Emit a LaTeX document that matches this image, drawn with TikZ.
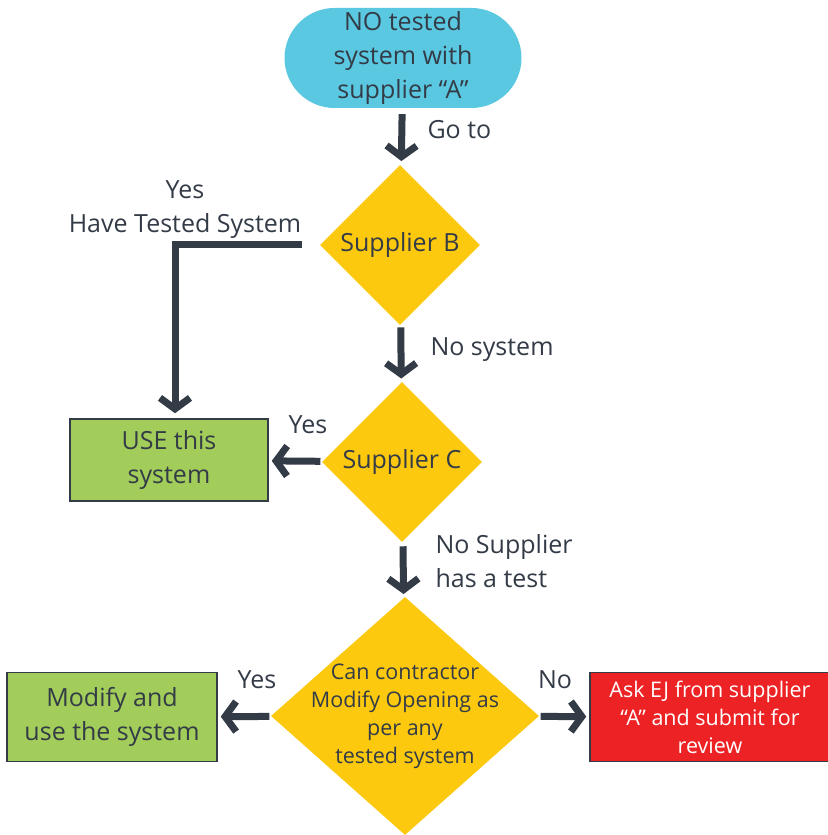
\documentclass[tikz,border=0pt]{standalone}
\usepackage{fontspec}
\setmainfont{Open Sans}
\usetikzlibrary{arrows.meta,shapes.geometric}
\definecolor{ink}{HTML}{333B46}
\definecolor{termcyan}{HTML}{5BC8E1}
\definecolor{decyellow}{HTML}{FDC90F}
\definecolor{okgreen}{HTML}{A2CD5A}
\definecolor{stopred}{HTML}{ED2224}
\tikzset{
  txt/.style={text=ink, font=\fontsize{25}{34}\selectfont, align=center},
  small/.style={text=ink, font=\fontsize{21.5}{28}\selectfont, align=center},
  dia/.style={diamond, fill=decyellow, inner sep=0pt, aspect=1},
  box/.style={rectangle, draw=ink, line width=1.5pt, inner sep=0pt},
  flow/.style={line width=7pt, draw=ink, -{Straight Barb[length=11pt,width=30pt]}},
}
\begin{document}
\begin{tikzpicture}[x=1pt,y=1pt]
\useasboundingbox (0,0) rectangle (827,835);
% shapes
\node[txt, fill=termcyan, rounded corners=50pt, minimum width=237pt, minimum height=100pt, inner sep=0pt] (start) at (403,777) {NO tested\\system with\\supplier “A”};
\node[dia, txt, minimum width=160pt, minimum height=160pt] (supB) at (400,590) {Supplier B};
\node[dia, txt, minimum width=160pt, minimum height=160pt] (supC) at (402,373) {Supplier C};
\node[dia, minimum width=268pt, minimum height=238pt, label={[small]center:{Can contractor\\Modify Opening as\\per any\\tested system}}] (canMod) at (405,119) {};
\node[box, txt, fill=okgreen, minimum width=198pt, minimum height=82pt] (useSys) at (169,375) {USE this\\system};
\node[box, txt, fill=okgreen, minimum width=210pt, minimum height=89pt] (modSys) at (112,118) {Modify and\\use the system};
\node[box, small, text=white, fill=stopred, minimum width=240pt, minimum height=89pt] (askEJ) at (710,118) {Ask EJ from supplier\\“A” and submit for\\review};
% connectors
\draw[flow, shorten <=6pt, shorten >=5pt] (start) -- (supB);
\draw[flow, shorten >=5pt] ([xshift=-18pt]supB.west) -| ([xshift=6pt]useSys.north);
\draw[flow, shorten <=3pt, shorten >=4pt] (supB) -- (supC);
\draw[flow, shorten <=2pt, shorten >=3pt] (supC) -- (useSys);
\draw[flow, shorten <=5pt, shorten >=4pt] (supC) -- (canMod);
\draw[flow, shorten <=2pt, shorten >=3pt] (canMod) -- (modSys);
\draw[flow, shorten <=2pt, shorten >=3pt] (canMod) -- (askEJ);
% labels
\node[txt, anchor=west] (lGo) at (424,705) {Go to};
\node[txt] (lHave) at (185,625) {Yes\\Have Tested System};
\node[txt, anchor=west] (lNoSys) at (427,485) {No system};
\node[txt] (lYesC) at (308,410) {Yes};
\node[txt, anchor=west, align=left] (lNoSup) at (432,274) {No Supplier\\has a test};
\node[txt] (lYesD) at (257,155) {Yes};
\node[txt] (lNoD) at (555,155) {No};
\end{tikzpicture}
\end{document}
